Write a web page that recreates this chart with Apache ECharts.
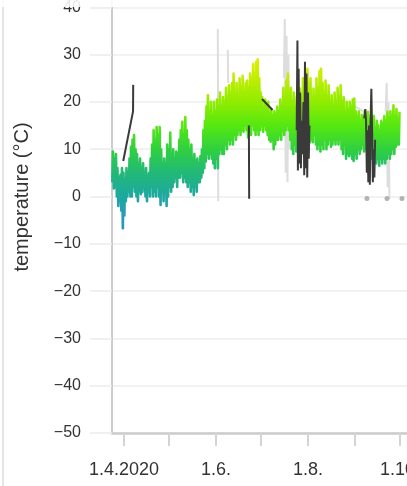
<!DOCTYPE html>
<html>
<head>
<meta charset="utf-8">
<script src="https://cdn.jsdelivr.net/npm/echarts@6/dist/echarts.min.js"></script>
<style>
html,body{margin:0;padding:0;background:#fff;overflow:hidden;width:407px;height:486px;}
#c{position:absolute;left:0;top:-48px;width:460px;height:534px;}
</style>
</head>
<body>
<div id="c"></div>
<script>
// ---- data ----
const startDate = '2020-03-24';            // day 0 of the series
const axisEndDate = '2020-11-01';
const tickDates = ['2020-04-01','2020-05-01','2020-06-01','2020-07-01','2020-08-01','2020-09-01','2020-10-01'];
const labelDates = ['2020-04-01','2020-06-01','2020-08-01','2020-10-01'];
const tickLabels = ['1.4.2020','1.6.','1.8.','1.10.'];
const yTicks = [-50,-40,-30,-20,-10,0,10,20,30,40,50];

// main station: daily maxima / minima (°C), day 0 = 24.3.2020
const dayHigh = [
  9.5, 8, 9, 6, 4, 4.6, 6, 5, 3.5, 6,
  5, 8, 10.5, 12, 13, 10, 9, 7, 8, 6,
  7, 5, 6, 4.5, 5, 8, 11, 14, 12, 14.7,
  13, 14.7, 10, 7, 8, 7, 11, 10, 13.5, 9,
  10, 8, 9.5, 9, 12, 14, 15.8, 13, 16.8, 14,
  12, 10, 11, 8, 9, 7.5, 8, 7, 8.5, 10,
  14, 16, 19, 21.4, 18, 20, 17, 20, 18, 20.5,
  19, 22, 19, 21, 20, 23, 21, 23.5, 22, 24,
  26, 22, 24, 21, 25, 23, 25.5, 22, 24, 24.5,
  23, 26, 25, 28, 26, 28.4, 29, 25, 22, 21,
  18, 20.5, 19, 20, 17.5, 18.5, 17, 18, 17.5, 19,
  18, 20.5, 19, 23, 21, 24.5, 26, 22, 23, 20,
  22, 19, 21, 20, 22.8, 21, 25, 23, 26, 27,
  24, 25, 21, 22.8, 21, 25, 23, 26.5, 27, 24,
  22, 24.5, 21, 23.5, 20, 21.4, 19, 22, 20, 23,
  21, 23.5, 20, 21, 18, 20, 18.5, 20, 19, 20.5,
  20.7, 18, 17, 18, 16, 17.2, 16.5, 18, 16, 17.9,
  16, 17.2, 15.5, 17, 14.5, 16, 15, 14, 16, 15.5,
  17, 16, 17.9, 16.5, 18, 17, 19.3, 17, 18.5, 16.5, 17.9
];
const dayLow = [
  3, 1.7, 2, 0, -2, -1, -3, -6.7, -4, -1,
  0, 1, 0, 0, 2, 1, 0, -1, 1, 0.5,
  1, 2, 0, -1, 1, 0, 2, 0, 1, 0,
  2, 0, -1.8, 1, -1, 1, -2, 0, 2, 1,
  2, 3, 4, 2, 4, 4, 5, 3, 4, 3,
  2, 3, 1, 2, 0.3, 2, 1, 3, 3, 4,
  5, 6, 7.4, 9, 8, 9, 8, 7, 6, 8,
  6, 9, 10, 9, 9, 11, 10, 12, 11, 12,
  11, 13, 12, 13, 14, 13, 14, 13.7, 15, 14,
  12.5, 14, 13, 15, 14, 13, 14, 13, 14, 15,
  13.7, 15, 14, 13, 12, 11.6, 12, 10, 11, 12,
  12, 13, 12, 14, 13, 14, 15, 14, 12, 10,
  9, 11, 9.5, 10, 9, 8.5, 10, 9, 11, 10.5,
  12, 11.5, 12, 11.5, 13, 11, 10, 11, 9.5, 11,
  10, 12, 10, 11, 12, 10.5, 11, 12, 11, 12,
  11, 12, 10, 9, 11, 8, 9, 8.5, 9, 8,
  7.5, 9, 8, 10, 9, 10, 11, 9.5, 10, 9.5,
  10, 9, 8, 9, 8, 7, 8, 6.5, 8, 7,
  8, 7, 8, 9, 8, 9, 10, 9, 10.5, 11, 11
];

// second station (dark grey), null = gap
const darkDays  = [7.5, 14, 14.1, null, 90.8, 91, null, 99.5, 106.5, null,
  122.5, 123, 123.3, 123.8, 124.3, 124.8, 125.3, 125.8, 126.3, 127, 127.5, 128, 128.5, 129, 129.5, 130, 130.5, 131, null,
  167.3, 168, 168.5, 169, 169.5, 170, 170.5, 171, 171.5, 172, 172.5, 173, 173.5, 174, 174.5];
const darkTemps = [7.5, 18, 23.6, null, 15, -0.5, null, 20.6, 18.3, null,
  14, 33, 5.5, 27, 7, 22, 6, 16, 9, 20, 4.5, 28.5, 6, 26, 4, 22, 8, 15, null,
  16.5, 18.5, 16, 5, 14, 3, 15, 2.5, 16, 22.8, 14, 3, 10, 4, 12];

// third station (light grey), null = gap
const lightDays  = [70.2, 70.5, null, 76.8, 77.1, null, 114, 114.6, 115.2, 115.8, 116.4, 117, 117.5, null, 158, 167, null, 181.5, 182.2, 182.8, 183.4, 184];
const lightTemps = [35.4, -1, null, 31, 24, null, 25, 37.5, 5, 34, 3, 30, 10, null, 19.6, 18, null, 18, 24, 2, 20, -0.5];

// isolated readings (grey dots)
const dotDays  = [169.1, 182.4, 192.3];
const dotTemps = [-0.4, -0.4, -0.4];

// ---- build ----
function dayOf(s){
  const p = s.split('-').map(Number);
  const q = startDate.split('-').map(Number);
  return (Date.UTC(p[0],p[1]-1,p[2]) - Date.UTC(q[0],q[1]-1,q[2]))/86400000;
}
const tickDays = tickDates.map(dayOf);
const labelDays = labelDates.map(dayOf);

const mainData = [];
for (let i = 0; i < dayHigh.length; i++) {
  mainData.push([i + 0.25, dayLow[i]]);
  mainData.push([i + 0.65, dayHigh[i]]);
}
function pairs(xs, ys){
  return xs.map((x,i)=> (x===null||ys[i]===null) ? ['-','-'] : [x, ys[i]]);
}

const chart = echarts.init(document.getElementById('c'), null, {renderer:'canvas'});
const FONT = 'Liberation Sans, Arial, sans-serif';
chart.setOption({
  animation: false,
  backgroundColor: '#ffffff',
  grid: {left: 111.93, right: 13.25, top: 5.5, bottom: 53},
  xAxis: {
    type: 'value', min: 0, max: dayOf(axisEndDate),
    axisLine: {show: true, onZero: false, lineStyle: {color: '#cccccc', width: 2.5}},
    axisTick: {show: true, customValues: tickDays, length: 13, lineStyle: {color: '#d4d4d4', width: 2}},
    axisLabel: {
      customValues: labelDays, margin: 28, fontSize: 18, color: '#333', fontFamily: FONT,
      formatter: function(v){
        for (let i = 0; i < labelDays.length; i++) if (Math.abs(labelDays[i]-v) < 0.01) return tickLabels[i];
        return '';
      }
    },
    splitLine: {show: false}
  },
  yAxis: {
    type: 'value', min: yTicks[0], max: yTicks[yTicks.length-1], interval: 10,
    axisLine: {show: true, onZero: false, lineStyle: {color: '#cccccc', width: 2}},
    axisTick: {show: true, length: 22, lineStyle: {color: '#ececec', width: 1.5}},
    axisLabel: {margin: 31, fontSize: 16, color: '#333', fontFamily: FONT,
      formatter: function(v){ return String(v).replace('-', '\u2212'); }},
    splitLine: {show: true, lineStyle: {color: '#eeeeee', width: 1.5}}
  },
  visualMap: {
    type: 'continuous', show: false, seriesIndex: 1, dimension: 1, min: -10, max: 30,
    inRange: {color: ['#2a7fd0','#2898c0','#1ea8a0','#22b878','#30d040','#55e810','#90ec00','#c0ee00','#e6ee00']}
  },
  series: [
    {type: 'line', data: pairs(lightDays, lightTemps), symbol: 'none', connectNulls: false,
      lineStyle: {color: '#dddddd', width: 2}, z: 1, silent: true},
    {type: 'line', data: mainData, symbol: 'none', lineStyle: {width: 2.6, join: 'round'}, z: 2, silent: true},
    {type: 'line', data: pairs(darkDays, darkTemps), symbol: 'none', connectNulls: false,
      lineStyle: {color: '#3a3a3a', width: 2}, z: 3, silent: true},
    {type: 'scatter', data: pairs(dotDays, dotTemps), symbolSize: 5, itemStyle: {color: '#a0a0a0'}, z: 4, silent: true}
  ],
  graphic: [
    {type: 'text', x: 22, y: 197 + 48, rotation: Math.PI/2,
      style: {text: 'temperature (\u00B0C)', fontSize: 20, fontFamily: FONT, fill: '#333', align: 'center', verticalAlign: 'middle'}},
    {type: 'line', shape: {x1: 3, y1: 48, x2: 3, y2: 534}, style: {stroke: '#dddddd', lineWidth: 1.5}},
    {type: 'rect', z: 100, shape: {x: 0, y: 48, width: 460, height: 7}, style: {fill: 'rgba(255,255,255,0.88)'}}
  ]
});
</script>
</body>
</html>
